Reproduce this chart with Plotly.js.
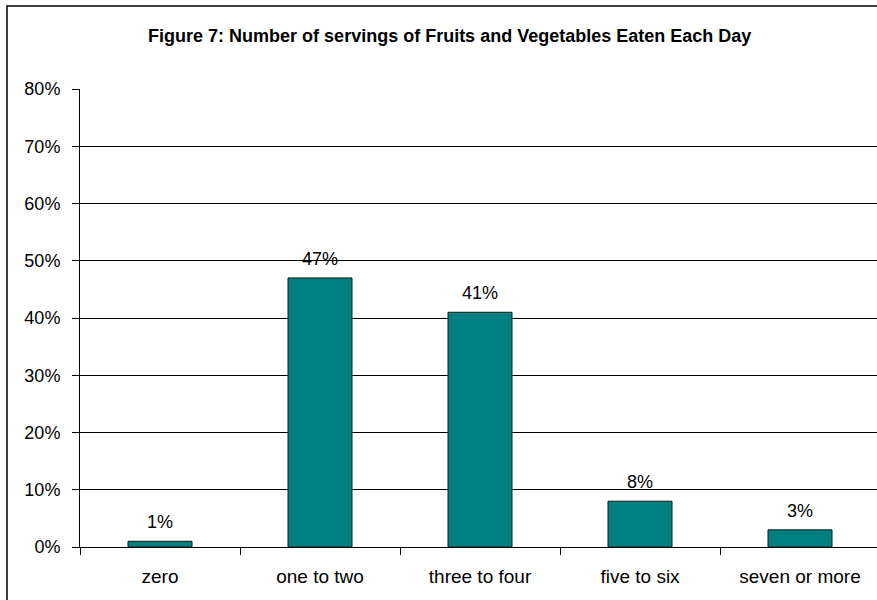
<!DOCTYPE html>
<html>
<head>
<meta charset="utf-8">
<script src="https://cdn.plot.ly/plotly-3.0.1.min.js"></script>
<style>html,body{margin:0;padding:0;overflow:hidden;background:#fff;}#chart{width:880px;height:600px;}</style>
</head>
<body>
<div id="chart"></div>
<script>
const categories = ["zero", "one to two", "three to four", "five to six", "seven or more"];
const values = [0.01, 0.47, 0.41, 0.08, 0.03];
const valueLabels = ["1%", "47%", "41%", "8%", "3%"];
const yTickVals = [0, 0.1, 0.2, 0.3, 0.4, 0.5, 0.6, 0.7, 0.8];

const FONT = "Liberation Sans, Arial, sans-serif";

const trace = {
  type: "bar",
  x: categories,
  y: values,
  marker: {color: "#008080", line: {color: "#1a1a1a", width: 1}},
  width: 0.4,
  hoverinfo: "none"
};

const labelAnnotations = categories.map((c, i) => ({
  x: c, y: values[i], xref: "x", yref: "y",
  text: valueLabels[i], showarrow: false,
  yanchor: "bottom", yshift: 7,
  font: {family: FONT, size: 18, color: "#000"}
}));

const layout = {
  width: 880,
  height: 600,
  margin: {l: 80, r: 0, t: 89, b: 53},
  paper_bgcolor: "#fff",
  plot_bgcolor: "#fff",
  showlegend: false,
  title: {
    text: "<b>Figure 7: Number of servings of Fruits and Vegetables Eaten Each Day</b>",
    font: {family: FONT, size: 18, color: "#000"},
    x: 0.511, xref: "container", xanchor: "center", y: 0.94, yref: "container", yanchor: "middle"
  },
  xaxis: {
    type: "category",
    tickson: "boundaries",
    ticks: "outside",
    ticklen: 7,
    tickcolor: "#000",
    showline: true,
    linecolor: "#000",
    linewidth: 1,
    showgrid: false,
    ticklabelstandoff: 12,
    tickfont: {family: FONT, size: 19, color: "#000"},
    range: [-0.5, 4.5]
  },
  yaxis: {
    range: [0, 0.8],
    tickvals: yTickVals,
    tickformat: ".0%",
    ticks: "outside",
    ticklen: 7,
    tickcolor: "#000",
    showline: true,
    linecolor: "#000",
    linewidth: 1,
    showgrid: true,
    gridcolor: "#000",
    gridwidth: 1,
    zeroline: false,
    ticklabelstandoff: 8,
    tickfont: {family: FONT, size: 18, color: "#000"}
  },
  annotations: labelAnnotations,
  shapes: [{
    type: "rect", xref: "paper", yref: "paper",
    x0: -0.09125, x1: 1.2, y0: -0.3, y1: 1.1812,
    line: {color: "#000", width: 1.5}, fillcolor: "rgba(0,0,0,0)", layer: "below"
  }]
};

Plotly.newPlot("chart", [trace], layout, {displayModeBar: false, staticPlot: true});
</script>
</body>
</html>
